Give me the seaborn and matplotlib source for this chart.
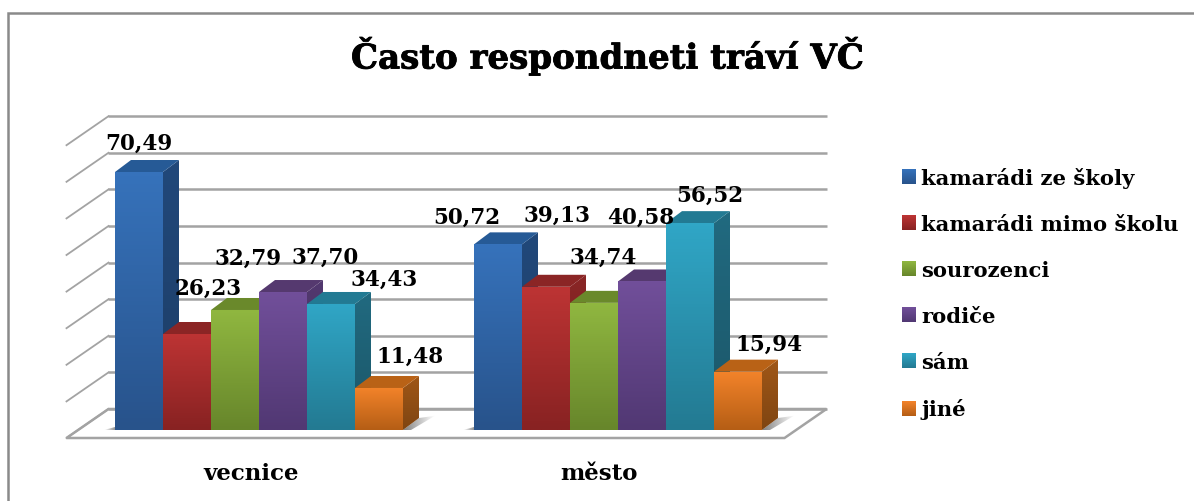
import numpy as np
import pandas as pd
import seaborn as sns
import matplotlib
matplotlib.use("Agg")
import matplotlib.pyplot as plt
import matplotlib.patheffects as pe
from matplotlib.colors import LinearSegmentedColormap
from matplotlib.image import BboxImage
from matplotlib.patches import Patch, PathPatch, Polygon
from matplotlib.path import Path

categories = ["vecnice", "město"]
series = ["kamarádi ze školy", "kamarádi mimo školu", "sourozenci", "rodiče", "sám", "jiné"]
vecnice = [70.49, 26.23, 32.79, 37.70, 34.43, 11.48]
mesto = [50.72, 39.13, 34.74, 40.58, 56.52, 15.94]
y_ticks = [0, 10, 20, 30, 40, 50, 60, 70, 80]

# top of front, bottom of front, side top, side bottom, cap
colors = [
    ("#3672bb", "#28538b", "#21487a", "#1d3d66", "#265a96"),
    ("#bd3434", "#882222", "#8a2626", "#6f1c1c", "#8b2525"),
    ("#90b740", "#67862b", "#69862c", "#58722a", "#6a892b"),
    ("#714f9a", "#513873", "#52386f", "#433060", "#55396f"),
    ("#30a6c6", "#237a92", "#216a80", "#1b5668", "#227a93"),
    ("#f3832a", "#b55e15", "#a05717", "#7f4512", "#b96216"),
]

# label shift from the middle of the bar top, pixels
label_shift = [(0, 28), (21, 45), (13, 51), (42, 34), (53, 24), (31, 31),
               (-31, 27), (11, 71), (9, 45), (-1, 64), (20, 27), (31, 27)]
# category labels sit left of the group middle in the original, pixels
cat_shift = [-8, -19]

W, H = 1194, 501
df = pd.DataFrame({"cat": np.repeat(categories, len(series)),
                   "who": series * len(categories),
                   "val": vecnice + mesto})

plt.rcParams["font.family"] = ["DejaVu Serif"]
fig = plt.figure(figsize=(W / 100, H / 100), dpi=100)
PX_X = 359.0   # pixels per category
PX_Y = 3.66    # pixels per unit
ax = fig.add_axes([79.5 / W, (H - 430) / H, 2 * PX_X / W, 100 * PX_Y / H])

sns.barplot(data=df, x="cat", y="val", hue="who", order=categories, hue_order=series,
            width=288 / PX_X, gap=0, dodge=True, legend=False, ax=ax,
            palette=[c[0] for c in colors], saturation=1, linewidth=0, zorder=3)
ax.set_xlim(-0.5, 1.5)
ax.set_ylim(0, 100)
ax.axis("off")

# depth of bars and floor, in data units
bar_dx, bar_dy = 16 / PX_X, 12 / PX_Y
wall_dx, wall_dy = 29 / PX_X, 21 / PX_Y
front_dx, front_dy = -13 / PX_X, -8 / PX_Y


def shaded(verts, top, bottom, zorder, across=False):
    verts = np.array(verts)
    cmap = LinearSegmentedColormap.from_list("g", [top, bottom])
    ramp = np.linspace(0, 1, 64).reshape(1, -1) if across else np.linspace(0, 1, 64).reshape(-1, 1)
    im = ax.imshow(ramp, cmap=cmap, aspect="auto", zorder=zorder,
                   extent=[verts[:, 0].min(), verts[:, 0].max(), verts[:, 1].min(), verts[:, 1].max()])
    clip = PathPatch(Path(np.vstack([verts, verts[0]]), closed=True), transform=ax.transData)
    im.set_clip_path(clip)


# floor and walls
x0, x1 = ax.get_xlim()
grid = "#a3a3a3"
ax.add_patch(Polygon([(x0 + front_dx, front_dy), (x1 + front_dx, front_dy), (x1 + wall_dx, wall_dy),
                      (x0 + wall_dx, wall_dy)], closed=True, fc="white", ec=grid, lw=1.8,
                     clip_on=False, zorder=1))
for t in y_ticks:
    ax.plot([x0 + wall_dx, x1 + wall_dx], [t + wall_dy] * 2, color=grid, lw=1.8,
            clip_on=False, zorder=1, solid_capstyle="butt")
    ax.plot([x0 + front_dx, x0 + wall_dx], [t + front_dy, t + wall_dy], color=grid, lw=1.3,
            clip_on=False, zorder=1)

# bars, extruded from what seaborn laid out
bars = [b for b in ax.patches if isinstance(b, matplotlib.patches.Rectangle) and b.get_width() > 0]
bars = sorted(bars, key=lambda b: b.get_x())
labels = [f"{v:.2f}".replace(".", ",") for v in df["val"]]
for i, b in enumerate(bars):
    c = colors[i % len(series)]
    xa, xb, v = b.get_x(), b.get_x() + b.get_width(), b.get_height()
    z = 4 + 0.01 * i
    b.set_visible(False)
    if i % len(series) == 0:
        shaded([(xa - 0.7 * bar_dx, 0), (xa, 0), (xa, 0.9)], "#ffffff", "#8a8a8a", 2, across=True)
    if i % len(series) == len(series) - 1:
        shaded([(xb, 0), (xb + bar_dx, bar_dy), (xb + 2.0 * bar_dx, bar_dy + 0.6), (xb + 0.5 * bar_dx, 0)],
               "#808080", "#ffffff", 2, across=True)
    shaded([(xa, 0), (xb, 0), (xb, v), (xa, v)], c[0], c[1], z + 0.002)
    shaded([(xb, 0), (xb + bar_dx, bar_dy), (xb + bar_dx, v + bar_dy), (xb, v)], c[2], c[3], z)
    ax.add_patch(Polygon([(xa, v), (xb, v), (xb + bar_dx, v + bar_dy), (xa + bar_dx, v + bar_dy)],
                         closed=True, fc=c[4], ec="none", zorder=z + 0.001))
    ax.annotate(labels[i], xy=((xa + xb) / 2, v), xytext=label_shift[i], textcoords="offset pixels",
                ha="center", va="center", fontsize=15.5, fontweight="bold", color="black",
                annotation_clip=False, zorder=20)
ax.set_xlim(-0.5, 1.5)
ax.set_ylim(0, 100)

for i, cat in enumerate(categories):
    ax.annotate(cat, xy=(i, 0), xytext=(cat_shift[i], -44), textcoords="offset pixels", ha="center",
                va="center", fontsize=16.5, fontweight="bold", annotation_clip=False)

title = fig.text(607 / W, 1 - 56 / H, "Často respondneti tráví VČ", ha="center", va="center",
                 fontsize=24.5, fontweight="bold", color="black")
title.set_path_effects([pe.withStroke(linewidth=0.6, foreground="black")])

handles = [Patch(fc=c[0], ec="none") for c in colors]
leg = fig.legend(handles, series, loc="upper left", bbox_to_anchor=(902 / W, 1 - 167.5 / H), frameon=False,
                 prop={"size": 15.2, "weight": "bold"}, handlelength=0.66, handleheight=0.66,
                 handletextpad=0.24, labelspacing=1.235, borderpad=0, borderaxespad=0)
fig.canvas.draw()
for h, c in zip(leg.get_patches(), colors):
    im = BboxImage(h.get_window_extent(), cmap=LinearSegmentedColormap.from_list("g", [c[0], c[1]]),
                   interpolation="bilinear", zorder=10)
    im.set_data(np.linspace(0, 1, 32).reshape(-1, 1))
    fig.add_artist(im)

# chart frame, runs off the right and bottom
fig.add_artist(plt.Line2D([8 / W, 8 / W, 1], [0, 1 - 13 / H, 1 - 13 / H], color="#8a8a8a", lw=1.8,
                          solid_joinstyle="miter"))

fig.savefig("out.png", dpi=100)
